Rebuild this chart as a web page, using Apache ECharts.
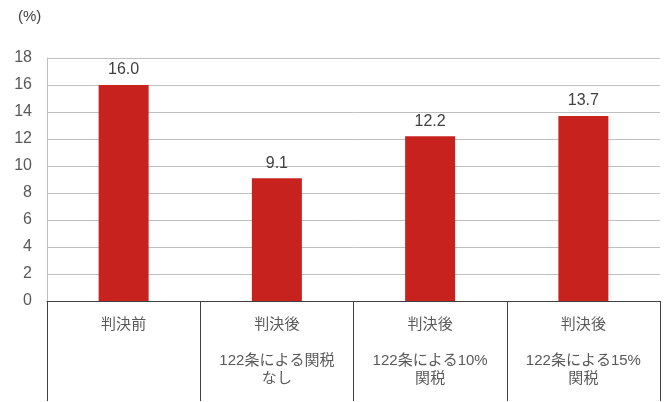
<!DOCTYPE html>
<html>
<head>
<meta charset="utf-8">
<script src="https://cdn.jsdelivr.net/npm/echarts@6/dist/echarts.min.js"></script>
<style>html,body{margin:0;padding:0;background:#fff}#chart{width:666px;height:402px}</style>
</head>
<body>
<div id="chart"></div>
<script>
const categories = ['判決前', '判決後\n\n122条による関税\nなし', '判決後\n\n122条による10%\n関税', '判決後\n\n122条による15%\n関税']
const values = [16.0, 9.1, 12.2, 13.7]
const yTicks = { min: 0, max: 18, interval: 2 }

const chart = echarts.init(document.getElementById('chart'))
chart.setOption({
  animation: false,
  textStyle: { fontFamily: 'Liberation Sans, Noto Sans CJK JP, sans-serif' },
  grid: { left: 47, right: 6, top: 58, bottom: 101 },
  graphic: [{ type: 'text', left: 18, top: 9, style: { text: '(%)', fontSize: 15, fill: '#404040' } }],
  xAxis: {
    type: 'category',
    data: categories,
    axisLine: { lineStyle: { color: '#404040', width: 1 } },
    axisTick: { show: true, length: 100, interval: 0, lineStyle: { color: '#404040' } },
    axisLabel: { interval: 0, color: '#595959', fontSize: 15, lineHeight: 18, margin: 15, verticalAlign: 'top' }
  },
  yAxis: {
    type: 'value',
    min: yTicks.min, max: yTicks.max, interval: yTicks.interval,
    axisLine: { show: true, lineStyle: { color: '#bfbfbf' } },
    axisTick: { show: false },
    axisLabel: { color: '#595959', fontSize: 16, margin: 15 },
    splitLine: { lineStyle: { color: '#bfbfbf' } }
  },
  series: [{
    type: 'bar',
    data: values,
    barWidth: 50,
    itemStyle: { color: '#C8221F' },
    label: { show: true, position: 'top', distance: 7, color: '#404040', fontSize: 16, formatter: p => p.value.toFixed(1) }
  }]
})
</script>
</body>
</html>
